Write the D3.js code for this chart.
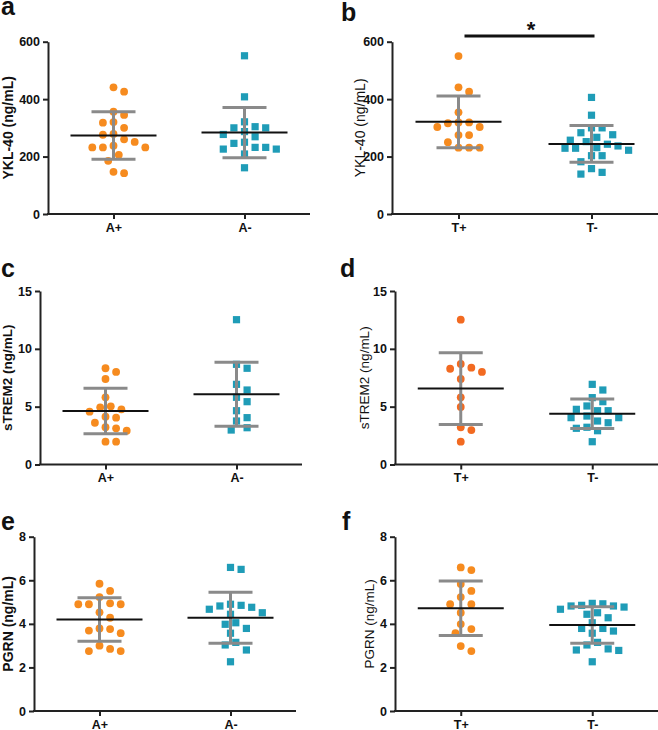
<!DOCTYPE html>
<html>
<head>
<meta charset="utf-8">
<script src="https://cdn.jsdelivr.net/npm/d3@7"></script>
<style>
  body { margin: 0; background: #fff; }
  svg { display: block; font-family: "Liberation Sans", Arial, sans-serif; }
</style>
</head>
<body>
<div id="container"></div>
<script>
// groups on the x axes
var amyloidGroups = ["A+", "A-"];
var tauGroups = ["T+", "T-"];

// YKL-40 (ng/mL)
var ykl_Apos = [441, 426, 356, 345, 318, 320, 300, 279, 276, 251, 260, 232, 232, 232, 238, 206, 185, 147, 142];
var ykl_Aneg = [551, 408, 321, 304, 300, 300, 287, 269, 277, 250, 246, 232, 226, 226, 232, 209, 161];
var ykl_Tpos = [550, 441, 426, 354, 319, 316, 319, 303, 303, 275, 275, 250, 231, 231, 231];
var ykl_Tneg = [406, 344, 300, 300, 276, 283, 267, 252, 257, 237, 243, 229, 229, 222, 231, 203, 203, 182, 158, 145, 139];
var ykl_A_mean = [273.5, 283.5], ykl_A_sd = [82.5, 87.5];
var ykl_T_mean = [321, 244], ykl_T_sd = [90, 64];

// sTREM2 (ng/mL)
var strem_Apos = [8.32, 8.0, 7.39, 5.81, 5.03, 4.94, 4.77, 4.57, 4.05, 4.13, 3.61, 3.22, 3.13, 2.92, 1.97, 1.97];
var strem_Aneg = [12.52, 8.66, 8.32, 6.93, 6.44, 5.81, 5.43, 4.65, 4.05, 3.76, 3.18, 2.98];
var strem_Tpos = [12.52, 8.69, 8.37, 8.28, 8.0, 7.39, 5.81, 4.97, 3.22, 2.98, 1.97];
var strem_Tneg = [6.93, 6.44, 5.78, 5.43, 5.06, 4.65, 4.65, 4.77, 4.19, 4.05, 4.05, 3.76, 3.61, 3.22, 3.13, 2.92, 1.97];
var strem_A_mean = [4.63, 6.07], strem_A_sd = [1.97, 2.77];
var strem_T_mean = [6.56, 4.39], strem_T_sd = [3.11, 1.28];

// PGRN (ng/mL)
var pgrn_Apos = [5.84, 5.51, 5.23, 4.94, 4.90, 4.90, 4.90, 4.53, 4.28, 3.79, 3.76, 3.69, 3.57, 3.00, 2.85, 2.75, 2.75];
var pgrn_Aneg = [6.59, 6.50, 4.90, 4.85, 4.82, 4.76, 4.67, 4.51, 4.44, 4.05, 3.98, 3.79, 3.57, 3.15, 3.03, 2.80, 2.26];
var pgrn_Tpos = [6.59, 6.47, 5.83, 5.51, 5.23, 4.90, 4.90, 4.51, 3.76, 3.99, 3.57, 2.98, 2.75];
var pgrn_Tneg = [4.94, 4.92, 4.85, 4.82, 4.82, 4.77, 4.67, 4.51, 4.44, 4.28, 4.05, 3.79, 3.79, 3.67, 3.57, 3.03, 3.15, 2.80, 2.78, 2.85, 2.26];
var pgrn_A_mean = [4.20, 4.28], pgrn_A_sd = [1.00, 1.17];
var pgrn_T_mean = [4.715, 3.95], pgrn_T_sd = [1.255, 0.84];

var yklTicks = [0, 200, 400, 600];
var stremTicks = [0, 5, 10, 15];
var pgrnTicks = [0, 2, 4, 6, 8];

var w = 658, h = 730;

var svg = d3.select("div#container")
  .append("svg")
  .attr("width", w)
  .attr("height", h);

svg.append("rect").attr("width", w).attr("height", h).attr("fill", "#fff");

var orange = "#f68b1f",
    orangeRed = "#f26a21",
    teal = "#1f9cb7",
    barGray = "#8a8a8a";

// panel layout
var panels = [
  {id: "a", left: 48, right: 310, top: 41.7, bottom: 214, groups: amyloidGroups,
   values: [ykl_Apos, ykl_Aneg], mean: ykl_A_mean, sd: ykl_A_sd, ticks: yklTicks,
   label: "YKL-40 (ng/mL)", bold: true, fs: 14, labelX: 8, letterX: 1, letterY: 15, c1: orange},
  {id: "b", left: 392, right: 658, top: 41.7, bottom: 214, groups: tauGroups,
   values: [ykl_Tpos, ykl_Tneg], mean: ykl_T_mean, sd: ykl_T_sd, ticks: yklTicks,
   label: "YKL-40 (ng/mL)", bold: false, fs: 14, labelX: 360, letterX: 341, letterY: 21, c1: orange},
  {id: "c", left: 40, right: 302, top: 291, bottom: 464.5, groups: amyloidGroups,
   values: [strem_Apos, strem_Aneg], mean: strem_A_mean, sd: strem_A_sd, ticks: stremTicks,
   label: "sTREM2 (ng/mL)", bold: true, fs: 13.5, labelX: 7, letterX: 1, letterY: 277, c1: orange},
  {id: "d", left: 395, right: 658, top: 291, bottom: 464.5, groups: tauGroups,
   values: [strem_Tpos, strem_Tneg], mean: strem_T_mean, sd: strem_T_sd, ticks: stremTicks,
   label: "sTREM2 (ng/mL)", bold: false, fs: 13.5, labelX: 364, letterX: 340, letterY: 277, c1: orangeRed},
  {id: "e", left: 34, right: 296, top: 536.7, bottom: 711, groups: amyloidGroups,
   values: [pgrn_Apos, pgrn_Aneg], mean: pgrn_A_mean, sd: pgrn_A_sd, ticks: pgrnTicks,
   label: "PGRN (ng/mL)", bold: true, fs: 14, labelX: 8, letterX: 1, letterY: 530, c1: orange},
  {id: "f", left: 395, right: 658, top: 536.7, bottom: 711, groups: tauGroups,
   values: [pgrn_Tpos, pgrn_Tneg], mean: pgrn_T_mean, sd: pgrn_T_sd, ticks: pgrnTicks,
   label: "PGRN (ng/mL)", bold: false, fs: 13.5, labelX: 369, letterX: 342, letterY: 530, c1: orange}
];

// simple beeswarm: spread points sideways so they do not overlap
function swarm(vals, y, cx) {
  var step = 5.3, minD = 9.6, placed = [];
  vals.slice().sort(function(a, b) { return b - a; }).forEach(function(v) {
    var py = y(v);
    for (var k = 0; k < 40; k++) {
      var off = (k % 2 === 1 ? 1 : -1) * Math.ceil(k / 2) * step;
      var ok = placed.every(function(p) {
        var dx = p.x - (cx + off), dy = p.y - py;
        return dx * dx + dy * dy >= minD * minD;
      });
      if (ok) { placed.push({x: cx + off, y: py, v: v}); break; }
    }
  });
  return placed;
}

panels.forEach(function(p) {
  var g = svg.append("g").attr("class", "panel-" + p.id);
  var maxTick = p.ticks[p.ticks.length - 1];

  var y = d3.scaleLinear().domain([0, maxTick]).range([p.bottom, p.top]);
  var x = d3.scalePoint().domain(p.groups).range([p.left, p.right]).padding(0.5);

  // points
  p.groups.forEach(function(grp, i) {
    var pts = swarm(p.values[i], y, x(grp));
    if (i === 0) {
      g.append("g").selectAll("circle")
        .data(pts).enter().append("circle")
        .attr("cx", function(d) { return d.x; })
        .attr("cy", function(d) { return d.y; })
        .attr("r", 3.9)
        .attr("fill", p.c1);
    } else {
      g.append("g").selectAll("rect")
        .data(pts).enter().append("rect")
        .attr("x", function(d) { return d.x - 3.6; })
        .attr("y", function(d) { return d.y - 3.6; })
        .attr("width", 7.2)
        .attr("height", 7.2)
        .attr("fill", teal);
    }
  });

  // mean and SD bars
  p.groups.forEach(function(grp, i) {
    var cx = x(grp), m = p.mean[i], s = p.sd[i];
    var bars = g.append("g").attr("stroke", barGray).attr("stroke-width", 3);
    bars.append("line").attr("x1", cx).attr("x2", cx).attr("y1", y(m + s)).attr("y2", y(m - s));
    bars.append("line").attr("x1", cx - 22).attr("x2", cx + 22).attr("y1", y(m + s)).attr("y2", y(m + s));
    bars.append("line").attr("x1", cx - 22).attr("x2", cx + 22).attr("y1", y(m - s)).attr("y2", y(m - s));
    g.append("line")
      .attr("x1", cx - 43).attr("x2", cx + 43)
      .attr("y1", y(m)).attr("y2", y(m))
      .attr("stroke", "#111").attr("stroke-width", 2);
  });

  // axes
  var yAxis = g.append("g")
    .attr("transform", "translate(" + p.left + ",0)")
    .call(d3.axisLeft(y).tickValues(p.ticks).tickSize(5).tickPadding(3).tickSizeOuter(0));
  var xAxis = g.append("g")
    .attr("transform", "translate(0," + p.bottom + ")")
    .call(d3.axisBottom(x).tickSize(5).tickPadding(4).tickSizeOuter(0));

  [yAxis, xAxis].forEach(function(ax) {
    ax.select(".domain").attr("stroke", "#222").attr("stroke-width", 2);
    ax.selectAll(".tick line").attr("stroke", "#222").attr("stroke-width", 2);
    ax.selectAll(".tick text")
      .attr("fill", "#111")
      .style("font-size", "12.5px")
      .style("font-weight", "bold")
      .style("font-family", "'Liberation Sans', Arial, sans-serif");
  });
  // the x axis line starts at the y axis
  xAxis.select(".domain").attr("d", "M" + (p.left - 1) + ",0H" + p.right);

  // y label
  g.append("text")
    .attr("transform", "translate(" + p.labelX + "," + ((p.top + p.bottom) / 2) + ") rotate(-90)")
    .attr("text-anchor", "middle")
    .attr("dominant-baseline", "central")
    .attr("fill", "#111")
    .style("font-size", p.fs + "px")
    .style("font-weight", p.bold ? "bold" : "normal")
    .text(p.label);

  // panel letter
  g.append("text")
    .attr("x", p.letterX)
    .attr("y", p.letterY)
    .attr("fill", "#111")
    .style("font-size", "25px")
    .style("font-weight", "bold")
    .text(p.id);
});

// significance bracket for panel b
var bY = d3.scaleLinear().domain([0, 600]).range([214, 41.7]);
var bX = d3.scalePoint().domain(tauGroups).range([392, 658]).padding(0.5);
svg.append("line")
  .attr("x1", bX("T+") + 6).attr("x2", bX("T-") + 3)
  .attr("y1", bY(620)).attr("y2", bY(620))
  .attr("stroke", "#111").attr("stroke-width", 3);
svg.append("text")
  .attr("x", (bX("T+") + bX("T-")) / 2 + 6)
  .attr("y", bY(620) + 1)
  .attr("text-anchor", "middle")
  .attr("fill", "#111")
  .style("font-size", "22px")
  .style("font-weight", "bold")
  .text("*");
</script>
</body>
</html>
